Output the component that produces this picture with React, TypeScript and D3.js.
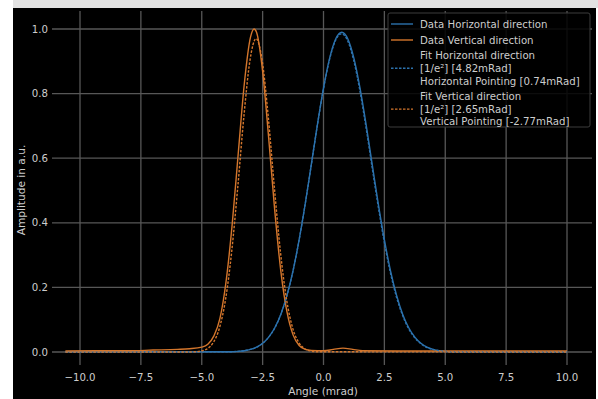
import * as d3 from 'd3';
import { useEffect, useRef } from 'react';

// horizontal direction (blue) measured profile
const hAngle = [-10.6, -8, -6, -4.5, -3.75, -3.5, -3.25, -3, -2.75, -2.5, -2.25, -2, -1.75, -1.5, -1.25, -1, -0.75, -0.5, -0.25, 0, 0.25, 0.5, 0.75, 1, 1.25, 1.5, 1.75, 2, 2.25, 2.5, 2.75, 3, 3.25, 3.5, 3.75, 4, 4.25, 4.5, 4.75, 5, 5.25, 6, 8, 10];
const hAmp = [0.001, 0.001, 0.001, 0.001, 0.001, 0.002, 0.004, 0.008, 0.015, 0.027, 0.046, 0.075, 0.117, 0.176, 0.252, 0.348, 0.459, 0.581, 0.704, 0.817, 0.909, 0.969, 0.99, 0.969, 0.909, 0.817, 0.704, 0.581, 0.459, 0.348, 0.252, 0.176, 0.117, 0.075, 0.046, 0.027, 0.015, 0.008, 0.004, 0.002, 0.001, 0.001, 0.001, 0.001];

// vertical direction (orange) measured profile
const vAngle = [-10.6, -9, -8, -7, -6, -5.5, -5, -4.75, -4.5, -4.25, -4, -3.75, -3.5, -3.25, -3, -2.85, -2.75, -2.5, -2.25, -2, -1.75, -1.5, -1.25, -1, -0.75, -0.5, 0, 0.4, 0.8, 1.2, 1.6, 3, 5, 7, 10];
const vAmp = [0.003, 0.004, 0.004, 0.006, 0.008, 0.01, 0.015, 0.024, 0.05, 0.105, 0.219, 0.395, 0.616, 0.832, 0.974, 1.0, 0.99, 0.869, 0.661, 0.436, 0.249, 0.124, 0.053, 0.02, 0.008, 0.005, 0.004, 0.008, 0.012, 0.008, 0.004, 0.003, 0.003, 0.003, 0.003];

// fitted gaussians
const hFitAngle = [-10.6, -3.76, -3.26, -3.01, -2.76, -2.51, -2.26, -2.01, -1.76, -1.51, -1.26, -1.01, -0.76, -0.51, -0.26, -0.01, 0.24, 0.49, 0.74, 0.99, 1.24, 1.49, 1.74, 1.99, 2.24, 2.49, 2.74, 2.99, 3.24, 3.49, 3.74, 3.99, 4.24, 4.49, 4.74, 5.24, 10];
const hFitAmp = [0, 0.001, 0.004, 0.008, 0.014, 0.026, 0.045, 0.073, 0.115, 0.172, 0.248, 0.343, 0.454, 0.575, 0.698, 0.811, 0.903, 0.964, 0.985, 0.964, 0.903, 0.811, 0.698, 0.575, 0.454, 0.343, 0.248, 0.172, 0.115, 0.073, 0.045, 0.026, 0.014, 0.008, 0.004, 0.001, 0];
const vFitAngle = [-10.6, -5.52, -5.27, -5.02, -4.77, -4.52, -4.27, -4.02, -3.77, -3.52, -3.27, -3.02, -2.77, -2.52, -2.27, -2.02, -1.77, -1.52, -1.27, -1.02, -0.77, -0.52, -0.27, 10];
const vFitAmp = [0, 0.0001, 0.0008, 0.003, 0.01, 0.03, 0.075, 0.164, 0.311, 0.511, 0.729, 0.903, 0.97, 0.903, 0.729, 0.511, 0.311, 0.164, 0.075, 0.03, 0.01, 0.003, 0.0008, 0];

const xTicks = [-10, -7.5, -5, -2.5, 0, 2.5, 5, 7.5, 10];
const yTicks = [0, 0.2, 0.4, 0.6, 0.8, 1.0];

const BLUE = '#2c72ad';
const ORANGE = '#d4762c';

const legendItems = [
  { lines: ['Data Horizontal direction'], color: BLUE, dash: null },
  { lines: ['Data Vertical direction'], color: ORANGE, dash: null },
  { lines: ['Fit Horizontal direction', '[1/e²] [4.82mRad]', 'Horizontal Pointing [0.74mRad]'], color: BLUE, dash: '2.5,1.5' },
  { lines: ['Fit Vertical direction', '[1/e²] [2.65mRad]', 'Vertical Pointing [-2.77mRad]'], color: ORANGE, dash: '2.5,1.5' },
];

const W = 598;
const H = 399;

export default function App() {
  const ref = useRef<SVGSVGElement | null>(null);

  useEffect(() => {
    const svg = d3.select(ref.current);
    svg.selectAll('*').remove();
    const font = 'DejaVu Sans, sans-serif';
    const txt = '#cdcdcd';
    const fs = 10.2;

    // page background: white strip on the left, grey strip on top, black figure
    svg.append('rect').attr('width', W).attr('height', H).attr('fill', '#ffffff');
    svg.append('rect').attr('x', 13).attr('y', 0).attr('width', W - 13).attr('height', 8).attr('fill', '#e2e2e2');
    svg.append('rect').attr('x', 13).attr('y', 8).attr('width', W - 15).attr('height', H - 8).attr('fill', '#000');

    const x = d3.scaleLinear().domain([-10, 10]).range([80, 567]);
    const y = d3.scaleLinear().domain([0, 1]).range([352, 29]);
    const plot = { left: 52, right: 592, top: 11, bottom: 365 };

    svg.append('defs').append('clipPath').attr('id', 'plotclip')
      .append('rect').attr('x', plot.left).attr('y', plot.top)
      .attr('width', plot.right - plot.left).attr('height', plot.bottom - plot.top);

    const grid = svg.append('g').attr('stroke', '#575757').attr('stroke-width', 1.3);
    grid.selectAll('line.v').data(xTicks).enter().append('line')
      .attr('x1', (d) => x(d)).attr('x2', (d) => x(d))
      .attr('y1', plot.top).attr('y2', plot.bottom);
    grid.selectAll('line.h').data(yTicks).enter().append('line')
      .attr('y1', (d) => y(d)).attr('y2', (d) => y(d))
      .attr('x1', plot.left).attr('x2', plot.right);

    svg.append('g').selectAll('text').data(xTicks).enter().append('text')
      .attr('x', (d) => x(d)).attr('y', 381)
      .attr('text-anchor', 'middle').attr('font-family', font).attr('font-size', fs).attr('fill', txt)
      .text((d) => d.toFixed(1).replace('-', '−'));
    svg.append('g').selectAll('text').data(yTicks).enter().append('text')
      .attr('x', 48).attr('y', (d) => y(d) + 3.6)
      .attr('text-anchor', 'end').attr('font-family', font).attr('font-size', fs).attr('fill', txt)
      .text((d) => d.toFixed(1));

    svg.append('text').attr('x', 323).attr('y', 395).attr('text-anchor', 'middle')
      .attr('font-family', font).attr('font-size', 10.6).attr('fill', txt).text('Angle (mrad)');
    svg.append('text').attr('transform', 'translate(25,190) rotate(-90)').attr('text-anchor', 'middle')
      .attr('font-family', font).attr('font-size', 10.6).attr('fill', txt).text('Amplitude in a.u.');

    const curves = svg.append('g').attr('clip-path', 'url(#plotclip)');
    const line = d3.line<[number, number]>().x((d) => x(d[0])).y((d) => y(d[1])).curve(d3.curveMonotoneX);
    const series = [
      { xs: hAngle, ys: hAmp, color: BLUE, dash: null },
      { xs: vAngle, ys: vAmp, color: ORANGE, dash: null },
      { xs: hFitAngle, ys: hFitAmp, color: BLUE, dash: '2.5,1.5' },
      { xs: vFitAngle, ys: vFitAmp, color: ORANGE, dash: '2.5,1.5' },
    ];
    series.forEach((s) => {
      const pts = s.xs.map((v, i) => [v, s.ys[i]] as [number, number]);
      curves.append('path').attr('d', line(pts)).attr('fill', 'none')
        .attr('stroke', s.color).attr('stroke-width', 1.4)
        .attr('stroke-dasharray', s.dash);
    });

    // legend
    const lg = svg.append('g');
    lg.append('rect').attr('x', 388).attr('y', 13).attr('width', 202).attr('height', 114)
      .attr('rx', 2).attr('fill', 'rgba(0,0,0,0.85)').attr('stroke', '#3c3c3c').attr('stroke-width', 1);
    const lineGap = 12.7;
    let cy = 24;
    legendItems.forEach((item, k) => {
      const n = item.lines.length;
      const mid = cy + ((n - 1) * lineGap) / 2;
      lg.append('line').attr('x1', 391).attr('x2', 413).attr('y1', mid).attr('y2', mid)
        .attr('stroke', item.color).attr('stroke-width', 1.4).attr('stroke-dasharray', item.dash);
      item.lines.forEach((t, j) => {
        lg.append('text').attr('x', 420).attr('y', cy + j * lineGap + 3.6)
          .attr('font-family', font).attr('font-size', fs).attr('fill', txt).text(t);
      });
      cy += (n - 1) * lineGap + (k === 0 ? 16 : 15.5);
    });
  }, []);

  return (
    <svg ref={ref} width={W} height={H} style={{ position: 'absolute', left: 0, top: 0 }} />
  );
}
